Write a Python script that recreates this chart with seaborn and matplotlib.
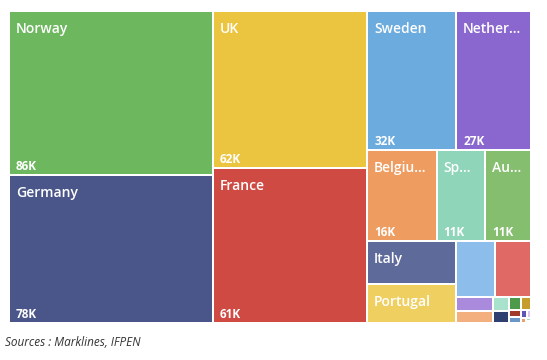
import matplotlib
matplotlib.use("Agg")
import matplotlib.pyplot as plt
import seaborn as sns

# EV sales by country, thousands
countries = ["Norway", "Germany", "UK", "France", "Sweden", "Netherlands",
             "Belgium", "Spain", "Austria", "Italy", "Portugal",
             "Denmark", "Switzerland", "Finland", "Ireland", "Luxembourg",
             "Poland", "Iceland", "Hungary", "Greece", "Czechia",
             "Slovenia", "Romania", "Slovakia", "Croatia", "Bulgaria"]
sales = [85.6, 77.6, 62.3, 61.3, 31.9, 26.8,
         16.2, 11.3, 10.7, 9.7, 9.0,
         5.5, 5.2, 1.35, 1.12, 0.58,
         0.47, 0.41, 0.35, 0.20, 0.19,
         0.12, 0.08, 0.06, 0.04, 0.03]
colors = ["#6DB75F", "#4A5689", "#ECC540", "#CF4A43", "#6BABDE", "#8A67CF",
          "#EE9C60", "#8FD5B9", "#86BE70", "#5E6A9A", "#EFCF60",
          "#8DBDEA", "#E06865", "#A98ADD", "#F3AF7D", "#A8E2CD",
          "#2F3F70", "#4D9A4A", "#C49D2C", "#A2392D", "#6A96C8",
          "#5E55B8", "#D8C9EE", "#E8A070", "#9ED9C6", "#3F7F3C"]
source = "Sources : Marklines, IFPEN"

PHI = (1 + 5 ** 0.5) / 2


def squarify(values, x0, y0, x1, y1, ratio=PHI):
    # same idea as d3.treemapSquarify
    rects = []
    total = sum(values)
    i0, n = 0, len(values)
    while i0 < n:
        dx, dy = x1 - x0, y1 - y0
        s = values[i0]
        vmin = vmax = s
        alpha = max(dy / dx, dx / dy) / (total * ratio)
        beta = s * s * alpha
        best = max(vmax / beta, beta / vmin)
        i1 = i0 + 1
        while i1 < n:
            v = values[i1]
            mn, mx = min(vmin, v), max(vmax, v)
            beta = (s + v) ** 2 * alpha
            r = max(mx / beta, beta / mn)
            if r > best:
                break
            s, vmin, vmax, best = s + v, mn, mx, r
            i1 += 1
        row = values[i0:i1]
        if dx < dy:
            h = dy * s / total
            xx = x0
            for v in row:
                w = dx * v / s
                rects.append((xx, y0, w, h))
                xx += w
            y0 += h
        else:
            w = dx * s / total
            yy = y0
            for v in row:
                h = dy * v / s
                rects.append((x0, yy, w, h))
                yy += h
            x0 += w
        total -= s
        i0 = i1
    return rects


sns.set_theme(style="white")
plt.rcParams["font.family"] = ["Open Sans", "DejaVu Sans"]

W, H = 522, 312
fig = plt.figure(figsize=(5.47, 3.6), dpi=100)
ax = fig.add_axes([9 / 547, 37 / 360, W / 547, H / 360])
ax.set_xlim(0, W)
ax.set_ylim(H, 0)
ax.axis("off")

rects = squarify(sales, 0, 0, W, H)
pal = sns.color_palette(colors)
gap = 1.0
ax.bar([r[0] + gap for r in rects], [r[3] - 2 * gap for r in rects],
       width=[r[2] - 2 * gap for r in rects],
       bottom=[r[1] + gap for r in rects],
       align="edge", color=pal, linewidth=0)

renderer = fig.canvas.get_renderer()


def fit_label(t, text, avail):
    t.set_text(text)
    if t.get_window_extent(renderer).width <= avail:
        return
    for k in range(len(text) - 1, 0, -1):
        t.set_text(text[:k] + "...")
        if t.get_window_extent(renderer).width <= avail:
            return
    t.set_text("")


for (x, y, w, h), name, v in zip(rects, countries, sales):
    if w < 40 or h < 30:
        continue
    t = ax.text(x + 7, y + 22, name, color="white", fontsize=10,
                fontweight="semibold", va="baseline", ha="left")
    fit_label(t, name, w - 16)
    if h >= 60:
        ax.text(x + 7, y + h - 5, f"{round(v)}K", color="white", fontsize=8.5,
                fontweight="bold", va="baseline", ha="left")

fig.text(5 / 547, 1 - 346 / 360, source, fontsize=8.5, style="italic",
         color="#333333", va="baseline", ha="left")

fig.savefig("out.png", dpi=100)
